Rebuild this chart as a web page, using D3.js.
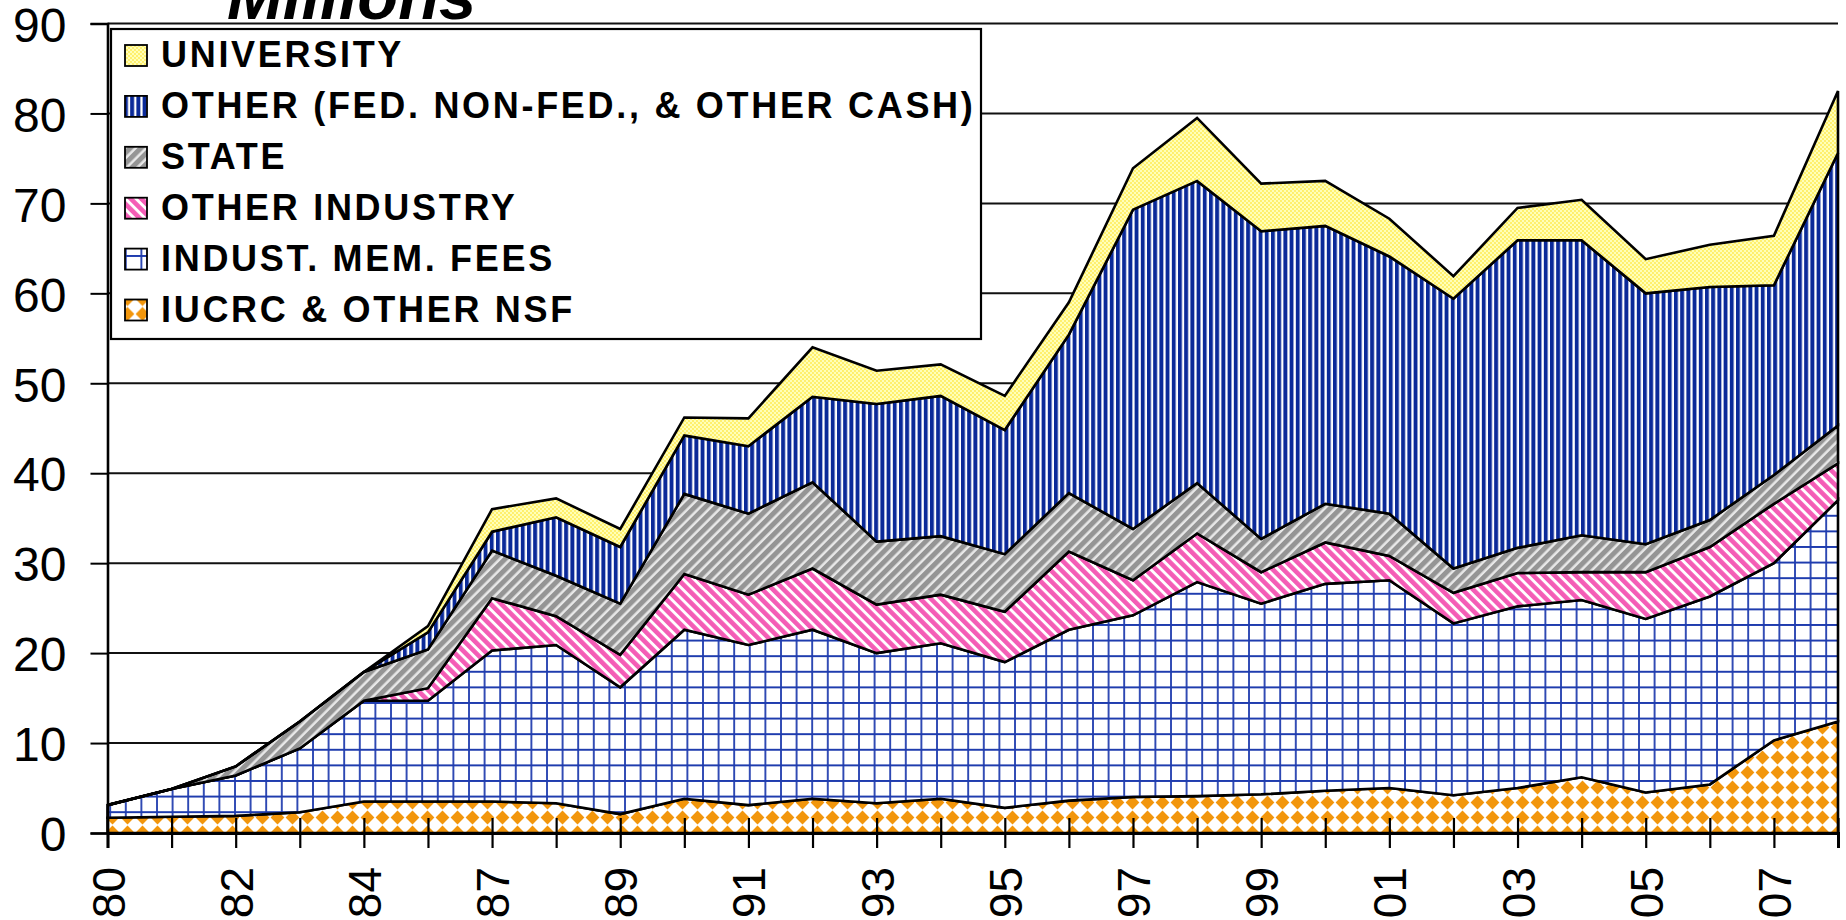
<!DOCTYPE html>
<html>
<head>
<meta charset="utf-8">
<script src="https://cdn.jsdelivr.net/npm/d3@7"></script>
<style>
  html, body { margin: 0; padding: 0; background: #fff; }
  svg { display: block; }
</style>
</head>
<body>
<div id="chart-wrap"></div>
<script>
const width = 1846;
const height = 920;

// categories (fiscal years)
const years = ["80","81","82","83","84","85","87","88","89","90","91","92","93","94","95","96","97","98","99","'00","'01","'02","'03","'04","'05","'06","'07","'08"];

// series values, $ millions
const iucrcNsf      = [1.7,1.8,1.9,2.3,3.5,3.5,3.5,3.3,2.1,3.8,3.1,3.8,3.3,3.8,2.8,3.6,4.0,4.1,4.3,4.7,5.0,4.2,5.0,6.2,4.5,5.4,10.3,12.4];
const memFees       = [1.4,3.1,4.5,7.1,11.2,11.2,16.8,17.6,14.1,18.8,17.8,18.8,16.7,17.3,16.2,19.0,20.2,23.8,21.2,23.0,23.1,19.1,20.2,19.7,19.3,20.9,19.7,24.6];
const otherIndustry = [0,0,0,0,0,1.4,5.8,3.2,3.6,6.2,5.6,6.8,5.4,5.4,5.6,8.7,3.9,5.4,3.5,4.6,2.7,3.4,3.7,3.1,5.2,5.5,6.6,4.1];
const state         = [0,0,1.0,3.0,3.2,4.3,5.3,4.5,5.7,8.9,9.0,9.6,7.0,6.5,6.4,6.5,5.7,5.6,3.7,4.3,4.7,2.7,2.8,4.1,3.1,3.0,3.2,4.2];
const otherFed      = [0,0,0,0,0,1.9,2.1,6.5,6.3,6.5,7.5,9.5,15.3,15.6,13.8,17.6,35.5,33.6,34.2,30.9,28.6,30.0,34.2,32.8,27.9,25.9,21.1,30.3];
const university    = [0,0,0,0,0,0.7,2.5,2.1,2.0,2.0,3.1,5.5,3.7,3.5,3.8,3.6,4.6,7.0,5.3,5.0,4.2,2.5,3.6,4.5,3.8,4.7,5.5,6.9];

const seriesKeys   = ["iucrc","fees","otherInd","state","other","univ"];
const seriesLabels = ["IUCRC & OTHER NSF","INDUST. MEM. FEES","OTHER INDUSTRY","STATE","OTHER (FED. NON-FED., & OTHER CASH)","UNIVERSITY"];
const yTicks = [0,10,20,30,40,50,60,70,80,90];

const rows = years.map((yr, i) => ({
  year: yr,
  iucrc: iucrcNsf[i],
  fees: memFees[i],
  otherInd: otherIndustry[i],
  state: state[i],
  other: otherFed[i],
  univ: university[i]
}));

const svg = d3.select("#chart-wrap")
  .append("svg")
  .attr("width", width)
  .attr("height", height);

const defs = svg.append("defs");

// --- fill patterns ---
let p = defs.append("pattern").attr("id", "pat-iucrc")
  .attr("patternUnits", "userSpaceOnUse").attr("width", 15).attr("height", 15);
p.append("rect").attr("width", 15).attr("height", 15).attr("fill", "#fff");
p.append("polygon").attr("points", "7.5,0.6 14.4,7.5 7.5,14.4 0.6,7.5").attr("fill", "#f2960c");

p = defs.append("pattern").attr("id", "pat-fees")
  .attr("patternUnits", "userSpaceOnUse").attr("width", 15.6).attr("height", 15.6);
p.append("rect").attr("width", 15.6).attr("height", 15.6).attr("fill", "#fff");
p.append("path").attr("d", "M0,1H15.6M1,0V15.6").attr("stroke", "#1f3cae").attr("stroke-width", 1.8);

p = defs.append("pattern").attr("id", "pat-otherInd")
  .attr("patternUnits", "userSpaceOnUse").attr("width", 7.5).attr("height", 20)
  .attr("patternTransform", "rotate(-45)");
p.append("rect").attr("width", 7.5).attr("height", 20).attr("fill", "#fff");
p.append("rect").attr("width", 4.6).attr("height", 20).attr("fill", "#f45db6");

p = defs.append("pattern").attr("id", "pat-state")
  .attr("patternUnits", "userSpaceOnUse").attr("width", 7.5).attr("height", 20)
  .attr("patternTransform", "rotate(45)");
p.append("rect").attr("width", 7.5).attr("height", 20).attr("fill", "#e8e8e8");
p.append("rect").attr("width", 5).attr("height", 20).attr("fill", "#959595");

p = defs.append("pattern").attr("id", "pat-other")
  .attr("patternUnits", "userSpaceOnUse").attr("width", 6.2).attr("height", 10);
p.append("rect").attr("width", 6.2).attr("height", 10).attr("fill", "#fff");
p.append("rect").attr("width", 3.9).attr("height", 10).attr("fill", "#0b2a99");

p = defs.append("pattern").attr("id", "pat-univ")
  .attr("patternUnits", "userSpaceOnUse").attr("width", 4).attr("height", 4);
p.append("rect").attr("width", 4).attr("height", 4).attr("fill", "#ffffb8");
p.append("circle").attr("cx", 1).attr("cy", 1).attr("r", 0.9).attr("fill", "#ffe94a");
p.append("circle").attr("cx", 3).attr("cy", 3).attr("r", 0.9).attr("fill", "#ffe94a");

// --- scales ---
const x = d3.scalePoint().domain(years).range([107.5, 1838]);
const y = d3.scaleLinear().domain([0, 90]).range([833, 23.5]);

// gridlines
svg.append("g")
  .selectAll("line")
  .data(yTicks.filter(d => d > 0))
  .join("line")
  .attr("x1", x.range()[0]).attr("x2", x.range()[1])
  .attr("y1", d => y(d)).attr("y2", d => y(d))
  .attr("stroke", "#111").attr("stroke-width", 2);

// stacked areas
const stack = d3.stack().keys(seriesKeys);
const layers = stack(rows);

const area = d3.area()
  .x(d => x(d.data.year))
  .y0(d => y(d[0]))
  .y1(d => y(d[1]));

svg.append("g")
  .selectAll("path")
  .data(layers)
  .join("path")
  .attr("d", area)
  .attr("fill", d => "url(#pat-" + d.key + ")")
  .attr("stroke", "#000")
  .attr("stroke-width", 2.6)
  .attr("stroke-linejoin", "miter");

// Add X axis
const labelYears = years.filter((d, i) => i % 2 === 0);
const xAxis = svg.append("g")
  .attr("transform", "translate(0," + y(0) + ")")
  .call(d3.axisBottom(x).tickSize(15).tickFormat(d => labelYears.includes(d) ? d : ""));
xAxis.select(".domain").attr("stroke", "#000").attr("stroke-width", 3);
xAxis.selectAll(".tick line").attr("y1", -15).attr("stroke", "#000").attr("stroke-width", 2.2);
xAxis.selectAll(".tick text")
  .attr("transform", "translate(0,34) rotate(-90)")
  .attr("x", 0).attr("y", 0).attr("dy", "0.36em")
  .attr("text-anchor", "end")
  .attr("fill", "#000")
  .style("font-family", "'Liberation Sans', Arial, sans-serif")
  .style("font-size", "46px");

// Add Y axis
const yAxis = svg.append("g")
  .attr("transform", "translate(" + x.range()[0] + ",0)")
  .call(d3.axisLeft(y).tickValues(yTicks).tickSize(17).tickPadding(24));
yAxis.select(".domain").attr("stroke", "#000").attr("stroke-width", 2.6);
yAxis.selectAll(".tick line").attr("stroke", "#000").attr("stroke-width", 2);
yAxis.selectAll(".tick text")
  .attr("fill", "#000")
  .attr("dy", "0.37em")
  .style("font-family", "'Liberation Sans', Arial, sans-serif")
  .style("font-size", "48px");

// title (mostly clipped by the top edge)
svg.append("text")
  .attr("x", 227).attr("y", 19)
  .style("font-family", "'Liberation Sans', Arial, sans-serif")
  .style("font-size", "67px")
  .style("font-weight", "bold")
  .style("font-style", "italic")
  .text("Millions");

// legend
const legend = svg.append("g");
legend.append("rect")
  .attr("x", 111).attr("y", 29).attr("width", 870).attr("height", 310)
  .attr("fill", "#fff").attr("stroke", "#000").attr("stroke-width", 2.2);

const legendOrder = seriesKeys.slice().reverse();
const legendRow = legend.selectAll("g.item")
  .data(legendOrder)
  .join("g")
  .attr("class", "item")
  .attr("transform", (d, i) => "translate(0," + (67 + i * 50.9) + ")");

legendRow.append("rect")
  .attr("x", 125).attr("y", -22).attr("width", 22).attr("height", 21)
  .attr("fill", d => "url(#pat-" + d + ")")
  .attr("stroke", "#000").attr("stroke-width", 1.8);

legendRow.append("text")
  .attr("x", 161).attr("y", 0)
  .style("font-family", "'Liberation Sans', Arial, sans-serif")
  .style("font-size", "36px")
  .style("font-weight", "bold")
  .style("letter-spacing", "2.7px")
  .text(d => seriesLabels[seriesKeys.indexOf(d)]);
</script>
</body>
</html>
